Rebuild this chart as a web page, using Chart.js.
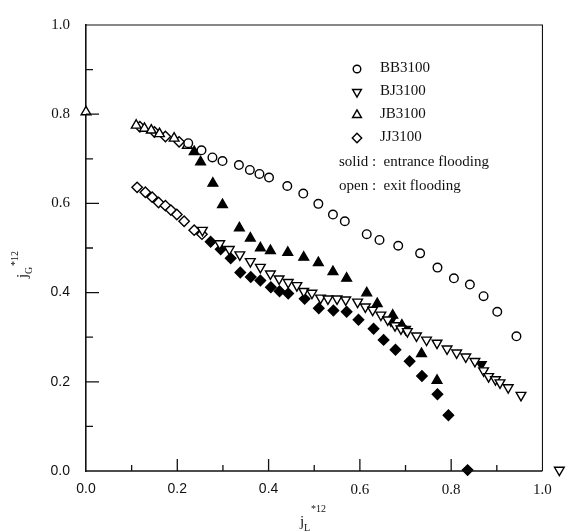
<!DOCTYPE html>
<html>
<head>
<meta charset="utf-8">
<script src="https://cdn.jsdelivr.net/npm/chart.js@4.4.0/dist/chart.umd.min.js"></script>
<style>
html, body { margin: 0; padding: 0; background: #fff; }
#wrap { width: 570px; height: 532px; }
</style>
</head>
<body>
<div id="wrap"><canvas id="floodChart"></canvas></div>
<script>
// tick labels
var xTickVals = [0, 0.2, 0.4, 0.6, 0.8, 1.0];
var yTickVals = [0, 0.2, 0.4, 0.6, 0.8, 1.0];
var legendNames = ["BB3100", "BJ3100", "JB3100", "JJ3100"];

// BB3100 - open circles (exit flooding)
var bbOpenX = [0.224, 0.253, 0.277, 0.299, 0.335, 0.359, 0.380, 0.401, 0.441, 0.476, 0.509, 0.541, 0.567, 0.615, 0.643, 0.684, 0.732, 0.770, 0.806, 0.841, 0.871, 0.901, 0.943];
var bbOpenY = [0.735, 0.719, 0.703, 0.695, 0.686, 0.675, 0.666, 0.658, 0.639, 0.622, 0.599, 0.575, 0.560, 0.531, 0.518, 0.505, 0.488, 0.456, 0.432, 0.418, 0.392, 0.357, 0.302];

// BJ3100 - down triangles
var bjOpenX = [0.255, 0.293, 0.314, 0.337, 0.360, 0.382, 0.404, 0.423, 0.443, 0.462, 0.477, 0.495, 0.514, 0.530, 0.550, 0.569, 0.595, 0.612, 0.628, 0.646, 0.661, 0.677, 0.690, 0.704, 0.724, 0.746, 0.769, 0.791, 0.812, 0.832, 0.852, 0.871, 0.882, 0.897, 0.907, 0.925, 0.953, 1.037];
var bjOpenY = [0.540, 0.510, 0.497, 0.485, 0.470, 0.457, 0.442, 0.431, 0.423, 0.416, 0.403, 0.399, 0.388, 0.386, 0.386, 0.384, 0.379, 0.368, 0.361, 0.350, 0.339, 0.326, 0.319, 0.313, 0.303, 0.294, 0.287, 0.274, 0.265, 0.256, 0.246, 0.225, 0.212, 0.205, 0.198, 0.187, 0.170, 0.002];
var bjSolidX = [0.668, 0.700, 0.866];
var bjSolidY = [0.337, 0.318, 0.239];

// JB3100 - up triangles
var jbOpenX = [0.000, 0.110, 0.128, 0.143, 0.161, 0.193, 0.222];
var jbOpenY = [0.805, 0.775, 0.768, 0.764, 0.756, 0.746, 0.730];
var jbSolidX = [0.237, 0.251, 0.278, 0.299, 0.336, 0.360, 0.382, 0.404, 0.442, 0.477, 0.509, 0.541, 0.571, 0.615, 0.638, 0.672, 0.692, 0.735, 0.769];
var jbSolidY = [0.716, 0.693, 0.645, 0.597, 0.545, 0.522, 0.500, 0.494, 0.490, 0.479, 0.467, 0.447, 0.432, 0.399, 0.375, 0.349, 0.327, 0.263, 0.203];

// JJ3100 - diamonds
var jjOpenX = [0.118, 0.150, 0.174, 0.204, 0.112, 0.130, 0.145, 0.159, 0.174, 0.186, 0.199, 0.215, 0.237, 0.254];
var jjOpenY = [0.772, 0.760, 0.750, 0.738, 0.636, 0.625, 0.614, 0.602, 0.595, 0.585, 0.575, 0.560, 0.540, 0.531];
var jjSolidX = [0.273, 0.295, 0.317, 0.338, 0.361, 0.382, 0.405, 0.424, 0.443, 0.479, 0.510, 0.542, 0.571, 0.597, 0.630, 0.652, 0.678, 0.709, 0.736, 0.770, 0.794, 0.836];
var jjSolidY = [0.514, 0.497, 0.477, 0.445, 0.435, 0.427, 0.412, 0.403, 0.398, 0.386, 0.365, 0.360, 0.357, 0.339, 0.319, 0.294, 0.272, 0.246, 0.213, 0.172, 0.125, 0.002];

function pts(xs, ys) {
  var out = [];
  for (var i = 0; i < xs.length; i++) out.push({ x: xs[i], y: ys[i] });
  return out;
}

function series(label, xs, ys, style, rot, r, filled) {
  return {
    label: label,
    data: pts(xs, ys),
    pointStyle: style,
    rotation: rot,
    pointRadius: r,
    pointHoverRadius: r,
    pointBackgroundColor: filled ? "#000" : "#fff",
    pointBorderColor: "#000",
    pointBorderWidth: 1.4,
    showLine: false,
    clip: false
  };
}

var serif = "'Liberation Serif', 'Times New Roman', serif";
var sans = "'Liberation Sans', Arial, sans-serif";

// frame stops at x = 1.0, the scale runs a bit further so the outlier shows
var framePlugin = {
  id: "frame",
  afterDraw: function (chart) {
    var ctx = chart.ctx, a = chart.chartArea;
    var xs = chart.scales.x, ys = chart.scales.y;
    var xEnd = xs.getPixelForValue(1.0);
    ctx.save();
    ctx.strokeStyle = "#111";
    ctx.lineWidth = 1.6;
    ctx.beginPath();
    ctx.moveTo(a.left, a.bottom);
    ctx.lineTo(xEnd, a.bottom);
    ctx.stroke();
    ctx.lineWidth = 1.1;
    ctx.beginPath();
    ctx.moveTo(a.left, a.top);
    ctx.lineTo(xEnd, a.top);
    ctx.lineTo(xEnd, a.bottom);
    ctx.stroke();

    ctx.lineWidth = 1.3;
    ctx.beginPath();
    for (var i = 1; i < 10; i++) {
      var v = i / 10;
      var len = (i % 2 === 0) ? 12 : 6;
      var px = xs.getPixelForValue(v);
      ctx.moveTo(px, a.bottom);
      ctx.lineTo(px, a.bottom - len);
      var py = ys.getPixelForValue(v);
      ctx.moveTo(a.left, py);
      ctx.lineTo(a.left + len + 1, py);
    }
    ctx.stroke();

    // axis titles
    ctx.fillStyle = "#111";
    ctx.textBaseline = "alphabetic";
    ctx.textAlign = "left";
    ctx.font = "15px " + serif;
    ctx.fillText("j", 300, 526);
    ctx.font = "10px " + serif;
    ctx.fillText("L", 304, 531);
    ctx.fillText("*12", 311, 512);

    ctx.save();
    ctx.translate(27, 278);
    ctx.rotate(-Math.PI / 2);
    ctx.font = "15px " + serif;
    ctx.fillText("j", 0, 0);
    ctx.font = "10px " + serif;
    ctx.fillText("G", 4, 5);
    ctx.fillText("*12", 12, -9);
    ctx.restore();

    // legend
    var ds = chart.data.datasets;
    var rows = [0, 1, 3, 5];
    var rowY = [68, 91, 114, 137];
    ctx.font = "15px " + serif;
    ctx.textBaseline = "middle";
    for (var k = 0; k < 4; k++) {
      var d = ds[rows[k]];
      var opt = {
        pointStyle: d.pointStyle,
        rotation: d.rotation,
        radius: d.pointRadius - 0.5,
        borderWidth: 1.4
      };
      ctx.fillStyle = "#fff";
      ctx.strokeStyle = "#000";
      ctx.lineWidth = 1.4;
      Chart.helpers.drawPoint(ctx, opt, 357, rowY[k] + 1);
      ctx.fillStyle = "#111";
      ctx.fillText(legendNames[k], 380, rowY[k]);
    }
    ctx.fillText("solid :  entrance flooding", 339, 162);
    ctx.fillText("open :  exit flooding", 339, 186);
    ctx.restore();
  }
};

var ctx = document.getElementById("floodChart").getContext("2d");
var floodChart = new Chart(ctx, {
  type: "scatter",
  data: {
    datasets: [
      series("BB3100", bbOpenX, bbOpenY, "circle", 0, 4.3, false),
      series("BJ3100", bjOpenX, bjOpenY, "triangle", 180, 5.6, false),
      series("BJ3100 solid", bjSolidX, bjSolidY, "triangle", 180, 5.6, true),
      series("JB3100", jbOpenX, jbOpenY, "triangle", 0, 5.6, false),
      series("JB3100 solid", jbSolidX, jbSolidY, "triangle", 0, 5.6, true),
      series("JJ3100", jjOpenX, jjOpenY, "rectRot", 0, 5.2, false),
      series("JJ3100 solid", jjSolidX, jjSolidY, "rectRot", 0, 5.2, true)
    ]
  },
  options: {
    responsive: true,
    maintainAspectRatio: false,
    animation: false,
    layout: { padding: { left: 0, right: 4, top: 20, bottom: 0 } },
    plugins: { legend: { display: false }, tooltip: { enabled: false } },
    scales: {
      x: {
        type: "linear",
        min: 0,
        max: 1.045,
        afterBuildTicks: function (s) { s.ticks = xTickVals.map(function (v) { return { value: v }; }); },
        afterFit: function (s) { s.height = 61; },
        grid: { display: false, drawTicks: false },
        border: { display: false },
        ticks: {
          padding: 10,
          color: "#111",
          maxRotation: 0,
          callback: function (v) { return v.toFixed(1); },
          font: function (c) {
            return (c.tick && c.tick.value > 0.5) ? { family: serif, size: 15 } : { family: sans, size: 14 };
          }
        }
      },
      y: {
        type: "linear",
        min: 0,
        max: 1,
        afterBuildTicks: function (s) { s.ticks = yTickVals.map(function (v) { return { value: v }; }); },
        afterFit: function (s) { s.width = 86; },
        grid: { display: false, drawTicks: false },
        border: { display: true, color: "#111", width: 1.6 },
        ticks: {
          padding: 16,
          color: "#111",
          callback: function (v) { return v.toFixed(1); },
          font: function (c) {
            return (c.tick && c.tick.value > 0.5) ? { family: serif, size: 15 } : { family: sans, size: 14 };
          }
        }
      }
    }
  },
  plugins: [framePlugin]
});
</script>
</body>
</html>
